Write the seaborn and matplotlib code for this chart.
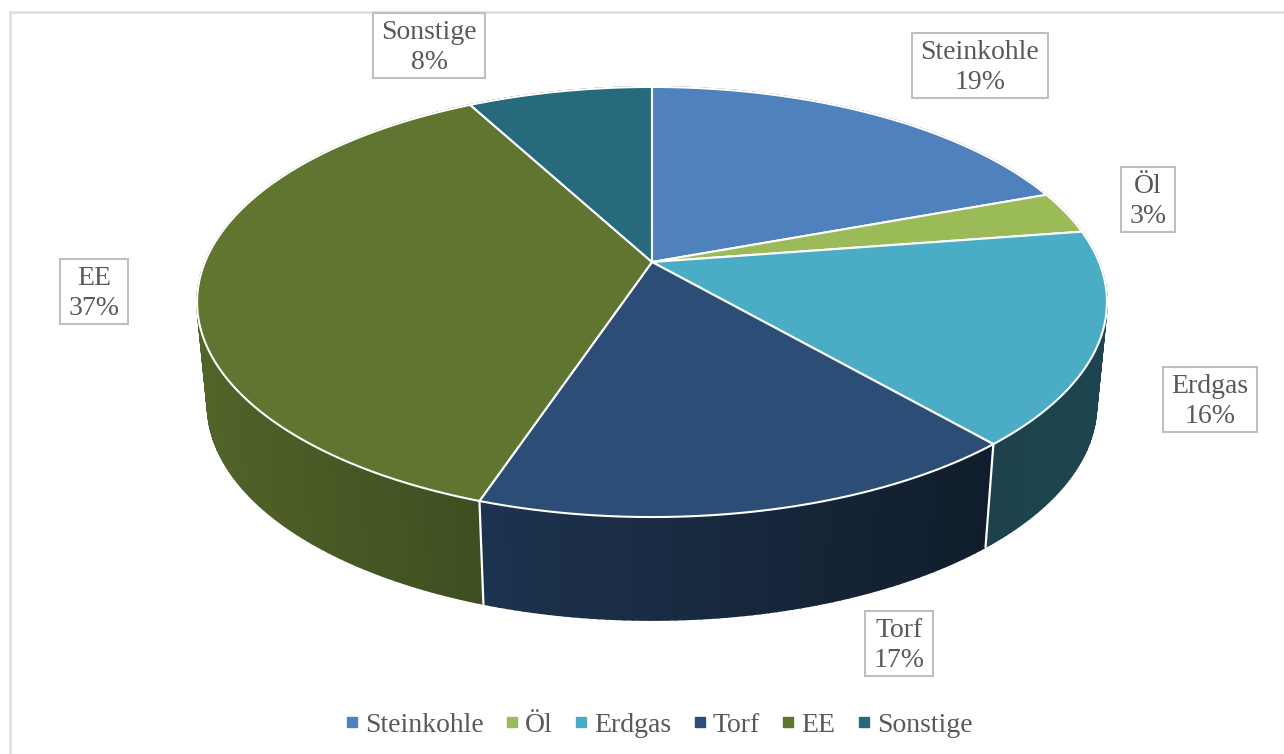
import numpy as np
import pandas as pd
import matplotlib
matplotlib.use("Agg")
import matplotlib.pyplot as plt
from matplotlib.lines import Line2D
from matplotlib.patches import Rectangle
import seaborn as sns

# Anteile in Prozent
names = ["Steinkohle", "Öl", "Erdgas", "Torf", "EE", "Sonstige"]
shares = [19.4, 3.2, 16.0, 16.55, 37.0, 7.85]
colors = ["#4F81BD", "#9BBB59", "#4BACC6", "#2C4D75", "#5F7530", "#276A7C"]

# label centers in pixels
label_x = [980, 1148, 1210, 899, 94, 429]
label_y = [65, 199, 399, 643, 291, 45]

df = pd.DataFrame({"name": names, "share": shares, "color": colors})
df["end"] = df["share"].cumsum() / df["share"].sum() * 2 * np.pi
df["start"] = df["end"] - df["share"] / df["share"].sum() * 2 * np.pi

sns.set_theme(style="white")
plt.rcParams["font.family"] = ["Liberation Serif", "DejaVu Serif"]

# perspective of the disc
cx, cy = 652, 262
a, b, k = 447, 207.6, 0.186
depth = 103
shrink = 0.977


def rim(t):
    u, v = np.sin(t), np.cos(t)
    return cx + a * u / (1 + k * v), cy - b * v / (1 + k * v)


def wall_shade(x):
    return np.interp(x, [200, 484, 985, 1100], [0.85, 0.66, 0.38, 0.40])


fig, ax = plt.subplots(figsize=(12.84, 7.54), dpi=100)
fig.subplots_adjust(0, 0, 1, 1)
ax.set_xlim(0, 1284)
ax.set_ylim(754, 0)
ax.axis("off")

# only top and left of the chart frame are in the crop
ax.add_patch(Rectangle((10, 12), 1300, 800, fc="white", ec="#DDDDDD", lw=1.8, clip_on=True))

# side walls first, top surface goes over them
for _, row in df.iterrows():
    ts = np.linspace(row["start"], row["end"], max(int(row["share"] * 4), 2))
    base = np.array(matplotlib.colors.to_rgb(row["color"]))
    for t0, t1 in zip(ts[:-1], ts[1:]):
        x0, y0 = rim(t0)
        x1, y1 = rim(t1)
        xb0, xb1 = cx + shrink * (x0 - cx), cx + shrink * (x1 - cx)
        c = base * wall_shade((x0 + x1) / 2)
        ax.fill([x0, x1, xb1, xb0], [y0, y1, y1 + depth, y0 + depth],
                color=c, lw=1.2, zorder=2)

# white seams between front slices
for _, row in df.iterrows():
    xs, ys = rim(row["start"])
    if ys > 300 and row["name"] != names[0]:
        ax.plot([xs, cx + shrink * (xs - cx)], [ys, ys + depth], color="white", lw=1.6, zorder=3)

for _, row in df.iterrows():
    ts = np.linspace(row["start"], row["end"], 200)
    xs, ys = rim(ts)
    ax.fill(np.r_[cx, xs], np.r_[cy, ys], facecolor=row["color"], edgecolor="white",
            lw=1.5, joinstyle="round", zorder=4)

renderer = fig.canvas.get_renderer()
for name, share, x, y in zip(names, shares, label_x, label_y):
    txt = ax.text(x, y + 2.5, f"{name}\n{round(share)}%", ha="center", va="center", fontsize=20,
                  color="#595959", linespacing=1.24, zorder=6)
    bb = txt.get_window_extent(renderer)
    ax.add_patch(Rectangle((x - bb.width / 2 - 8.5, y - 32.5), bb.width + 17, 65, fc="white",
                           ec="#BFBFBF", lw=1.5, zorder=5))

handles = [Line2D([], [], ls="", marker="s", ms=6.5, color=c) for c in colors]
ax.legend(handles, names, loc="center", bbox_to_anchor=(658 / 1284, 1 - 725 / 754), ncol=6,
          frameon=False, fontsize=20, labelcolor="#595959", handlelength=0.6,
          handletextpad=0.17, columnspacing=0.72)

plt.savefig("out.png", dpi=100)
